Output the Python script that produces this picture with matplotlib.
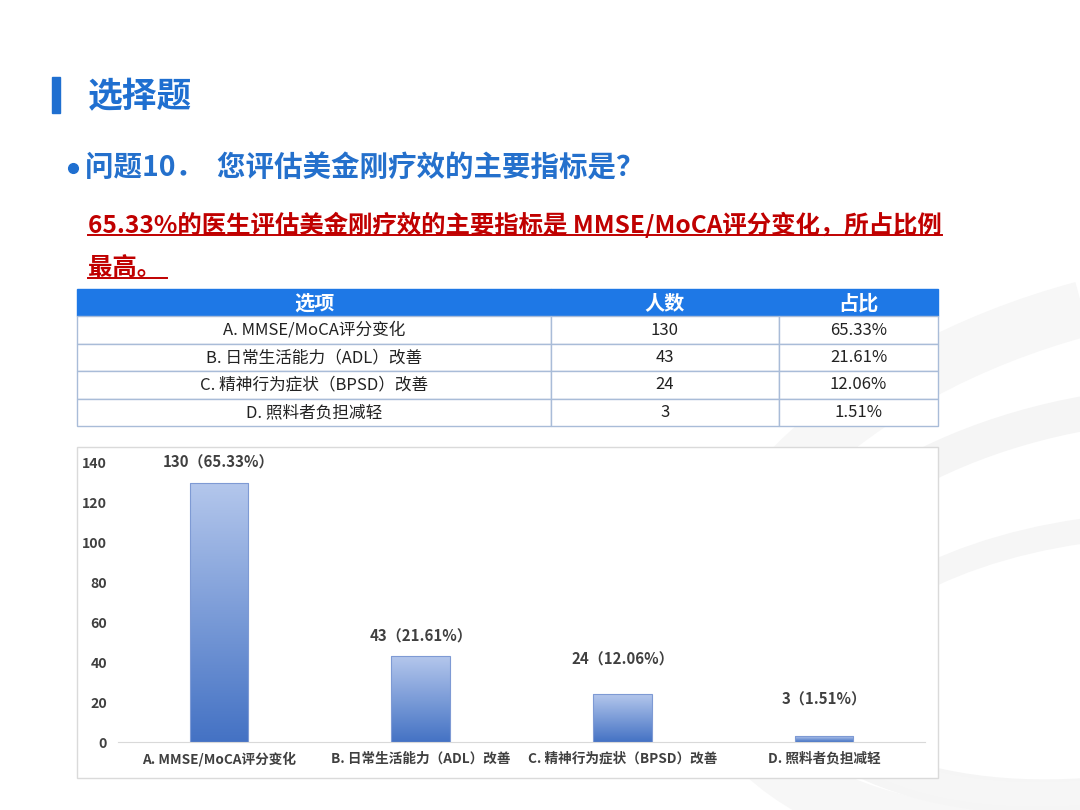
import matplotlib
matplotlib.use("Agg")
import matplotlib.pyplot as plt
import numpy as np
from matplotlib.colors import LinearSegmentedColormap
from matplotlib.patches import Rectangle, Arc

plt.rcParams['font.family'] = ['Noto Sans CJK SC', 'DejaVu Sans']

# data
options = ["A. MMSE/MoCA评分变化", "B. 日常生活能力（ADL）改善",
           "C. 精神行为症状（BPSD）改善", "D. 照料者负担减轻"]
counts = [130, 43, 24, 3]
shares = ["65.33%", "21.61%", "12.06%", "1.51%"]
header = ["选项", "人数", "占比"]
yticks = [0, 20, 40, 60, 80, 100, 120, 140]

W, H = 1080, 810
BLUE = "#1F6FD0"

fig = plt.figure(figsize=(10.8, 8.1), dpi=100)
fig.patch.set_facecolor("white")

# background layer in pixel coords
bg = fig.add_axes([0, 0, 1, 1])
bg.set_xlim(0, W)
bg.set_ylim(H, 0)
bg.axis("off")

# faint swirl decoration
for (cx, cy, w, h, ang, lw, col) in [
    (1150, 560, 900, 520, -15, 40, "#F7F7F7"),
    (1120, 600, 700, 380, -10, 25, "#F5F5F5"),
    (1100, 660, 560, 260, -8, 18, "#F6F6F6"),
    (-60, 120, 420, 300, 20, 30, "#F9F9F9"),
]:
    bg.add_patch(Arc((cx, cy), w, h, angle=ang, theta1=90, theta2=270,
                     lw=lw, color=col, zorder=0))

# title
bg.add_patch(Rectangle((52, 77), 8, 36, color=BLUE, zorder=2))
bg.text(88, 97, "选择题", fontsize=25, fontweight="bold", color=BLUE,
        va="center", ha="left")

bg.plot(73, 168, "o", ms=7, color=BLUE)
bg.text(85, 168, "问题10．  您评估美金刚疗效的主要指标是？", fontsize=20.5,
        fontweight="bold", color="#2470CC", va="center", ha="left")

RED = "#C00000"
t1 = bg.text(88, 225, "65.33%的医生评估美金刚疗效的主要指标是 MMSE/MoCA评分变化，所占比例",
             fontsize=17.6, fontweight="bold", color=RED, va="center", ha="left")
t2 = bg.text(88, 269, "最高。 ", fontsize=17.6, fontweight="bold", color=RED,
             va="center", ha="left")

# underline for red text
fig.canvas.draw()
inv = bg.transData.inverted()
for t in (t1, t2):
    bb = t.get_window_extent()
    (x0, y0), (x1, _) = inv.transform([(bb.x0, bb.y0), (bb.x1, bb.y1)])
    bg.plot([x0, x1], [y0 - 3, y0 - 3], color=RED, lw=1.4)

# table
tax = fig.add_axes([77 / W, 1 - 426 / H, 861 / W, (426 - 289) / H])
tax.axis("off")
rows = [[o, str(c), s] for o, c, s in zip(options, counts, shares)]
widths = np.array([474, 228, 159], dtype=float)
tbl = tax.table(cellText=rows, colLabels=header, colWidths=list(widths / widths.sum()),
                cellLoc="center", bbox=[0, 0, 1, 1])
tbl.auto_set_font_size(False)
for (r, c), cell in tbl.get_celld().items():
    cell.set_edgecolor("#A9BCD8")
    cell.set_linewidth(1)
    if r == 0:
        cell.set_facecolor("#1E78E6")
        cell.set_edgecolor("#1E78E6")
        cell.get_text().set_color("white")
        cell.get_text().set_fontweight("bold")
        cell.get_text().set_fontsize(14.5)
    else:
        cell.set_facecolor("white")
        cell.get_text().set_color("#222222")
        cell.get_text().set_fontsize(12)

# chart frame
bg.add_patch(Rectangle((77, 447), 861, 331, facecolor="white",
                       edgecolor="#DADADA", lw=1, zorder=1))

# bar chart
ax = fig.add_axes([118 / W, 1 - 742 / H, (925 - 118) / W, (742 - 463) / H])
ax.set_facecolor("none")
x = np.arange(len(counts))
bars = ax.bar(x, counts, width=0.29, facecolor="none", edgecolor="#7E9AD4",
              lw=0.8, zorder=3)

cmap = LinearSegmentedColormap.from_list("bar", ["#4472C4", "#B4C7EC"])
grad = np.linspace(0, 1, 256).reshape(-1, 1)
for b in bars:
    x0, w, h = b.get_x(), b.get_width(), b.get_height()
    im = ax.imshow(grad, cmap=cmap, extent=[x0, x0 + w, 0, h], origin="lower",
                   aspect="auto", zorder=2)
    im.set_clip_path(b)

label_pad = [15, 14, 25, 26]
for b, c, s, p in zip(bars, counts, shares, label_pad):
    ax.annotate(f"{c}（{s}）", (b.get_x() + b.get_width() / 2, c),
                xytext=(0, p), textcoords="offset points", ha="center",
                va="center", fontsize=10.8, fontweight="bold", color="#404040")

ax.set_xlim(-0.5, len(counts) - 0.5)
ax.set_ylim(0, 140)
ax.set_yticks(yticks)
ax.set_xticks(x)
ax.set_xticklabels(options)
for lab in ax.get_xticklabels() + ax.get_yticklabels():
    lab.set_fontweight("bold")
    lab.set_color("#404040")
ax.tick_params(axis="x", length=0, pad=7, labelsize=9.8)
ax.tick_params(axis="y", length=0, pad=8, labelsize=10.2)
for side in ("left", "right", "top"):
    ax.spines[side].set_visible(False)
ax.spines["bottom"].set_color("#D9D9D9")

fig.savefig("out.png", dpi=100, facecolor=fig.get_facecolor())
